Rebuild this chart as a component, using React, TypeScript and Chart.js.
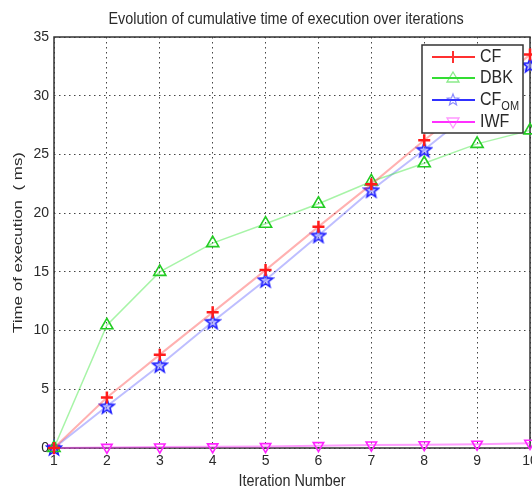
import React, { useEffect, useRef } from 'react';
import { Chart, registerables } from 'chart.js';

Chart.register(...registerables);

const iterations = ['1', '2', '3', '4', '5', '6', '7', '8', '9', '10'];
const cfValues = [0, 4.3, 7.95, 11.55, 15.15, 18.85, 22.45, 26.2, 29.8, 33.5];
const dbkValues = [0, 10.45, 15.0, 17.45, 19.1, 20.8, 22.7, 24.25, 25.9, 27.05];
const cfomValues = [0, 3.55, 7.05, 10.75, 14.3, 18.1, 21.95, 25.4, 29.0, 32.6];
const iwfValues = [0, 0.05, 0.08, 0.1, 0.12, 0.2, 0.25, 0.28, 0.32, 0.4];
const yMin = 0;
const yMax = 35;
const yStep = 5;

const titleText = 'Evolution of cumulative time of execution over iterations';
const xTitle = 'Iteration Number';
const yTitle = 'Time of execution  ( ms)';

const FONT = '"Liberation Sans", Arial, sans-serif';
const TEXT = '#2a2a2a';

function drawStarPath(ctx: CanvasRenderingContext2D, cx: number, cy: number, ro: number, ri: number) {
  ctx.beginPath();
  for (let i = 0; i < 10; i++) {
    const r = i % 2 === 0 ? ro : ri;
    const a = -Math.PI / 2 + (i * Math.PI) / 5;
    const x = cx + r * Math.cos(a);
    const y = cy + r * Math.sin(a);
    if (i === 0) ctx.moveTo(x, y);
    else ctx.lineTo(x, y);
  }
  ctx.closePath();
}

function makeStar(): HTMLCanvasElement {
  const c = document.createElement('canvas');
  c.width = 18;
  c.height = 18;
  const ctx = c.getContext('2d')!;
  drawStarPath(ctx, 9, 9.5, 7.5, 3.2);
  ctx.fillStyle = 'rgba(140,140,255,0.5)';
  ctx.fill();
  ctx.strokeStyle = '#1f1fff';
  ctx.lineWidth = 1.6;
  ctx.stroke();
  return c;
}

export default function App() {
  const ref = useRef<HTMLCanvasElement | null>(null);

  useEffect(() => {
    if (!ref.current) return;
    const star = makeStar();

    const overlay = {
      id: 'overlay',
      beforeDatasetsDraw(chart: any) {
        const { ctx, chartArea: a } = chart;
        ctx.save();
        ctx.strokeStyle = '#333';
        ctx.lineWidth = 1.5;
        ctx.strokeRect(a.left, a.top, a.right - a.left, a.bottom - a.top);
        ctx.restore();
      },
      afterDraw(chart: any) {
        const { ctx, chartArea: a } = chart;
        ctx.save();
        ctx.fillStyle = TEXT;
        ctx.textAlign = 'center';
        ctx.textBaseline = 'middle';
        ctx.save();
        ctx.translate(286, 19);
        ctx.scale(1, 1.15);
        ctx.font = `14.4px ${FONT}`;
        ctx.fillText(titleText, 0, 0);
        ctx.restore();
        ctx.save();
        ctx.translate((a.left + a.right) / 2, 481);
        ctx.scale(1, 1.15);
        ctx.font = `14.4px ${FONT}`;
        ctx.fillText(xTitle, 0, 0);
        ctx.restore();
        ctx.save();
        ctx.translate(18, (a.top + a.bottom) / 2);
        ctx.rotate(-Math.PI / 2);
        ctx.font = `13.5px ${FONT}`;
        const w = ctx.measureText(yTitle).width;
        ctx.scale(181 / w, 1);
        ctx.fillText(yTitle, 0, 0);
        ctx.restore();

        // legend
        const bx = 422, by = 45, bw = 101, bh = 88;
        ctx.fillStyle = '#fff';
        ctx.fillRect(bx, by, bw, bh);
        ctx.strokeStyle = '#333';
        ctx.lineWidth = 1.5;
        ctx.strokeRect(bx, by, bw, bh);
        const rows = [
          { y: 57, color: '#ff3030', label: 'CF', sub: '', mark: 'plus' },
          { y: 78, color: '#33dd33', label: 'DBK', sub: '', mark: 'tri' },
          { y: 100, color: '#3030ff', label: 'CF', sub: 'OM', mark: 'star' },
          { y: 122, color: '#ff30ff', label: 'IWF', sub: '', mark: 'dtri' },
        ];
        rows.forEach((r) => {
          ctx.strokeStyle = r.color;
          ctx.lineWidth = 2;
          ctx.beginPath();
          ctx.moveTo(432, r.y);
          ctx.lineTo(475, r.y);
          ctx.stroke();
          const mx = 453;
          if (r.mark === 'plus') {
            ctx.lineWidth = 2;
            ctx.beginPath();
            ctx.moveTo(mx, r.y - 6);
            ctx.lineTo(mx, r.y + 6);
            ctx.stroke();
          } else if (r.mark === 'tri') {
            ctx.strokeStyle = 'rgba(60,220,60,0.6)';
            ctx.lineWidth = 1.3;
            ctx.beginPath();
            ctx.moveTo(mx, r.y - 6);
            ctx.lineTo(mx + 6, r.y + 4);
            ctx.lineTo(mx - 6, r.y + 4);
            ctx.closePath();
            ctx.stroke();
          } else if (r.mark === 'star') {
            ctx.strokeStyle = 'rgba(60,60,255,0.6)';
            ctx.lineWidth = 1.2;
            drawStarPath(ctx, mx, r.y, 6, 2.6);
            ctx.stroke();
          } else {
            ctx.strokeStyle = 'rgba(255,80,255,0.6)';
            ctx.lineWidth = 1.3;
            ctx.beginPath();
            ctx.moveTo(mx, r.y + 6);
            ctx.lineTo(mx + 6, r.y - 4);
            ctx.lineTo(mx - 6, r.y - 4);
            ctx.closePath();
            ctx.stroke();
          }
          ctx.fillStyle = TEXT;
          ctx.textAlign = 'left';
          ctx.textBaseline = 'middle';
          ctx.save();
          ctx.translate(480, r.y);
          ctx.scale(1, 1.15);
          ctx.font = `16px ${FONT}`;
          ctx.fillText(r.label, 0, 0);
          if (r.sub) {
            const lw = ctx.measureText(r.label).width;
            ctx.font = `11px ${FONT}`;
            ctx.fillText(r.sub, lw, 6);
          }
          ctx.restore();
        });
        ctx.restore();
      },
    };

    const chart = new Chart(ref.current, {
      type: 'line',
      data: {
        labels: iterations,
        datasets: [
          {
            label: 'CF',
            data: cfValues,
            borderColor: 'rgba(255,60,60,0.4)',
            borderWidth: 2,
            pointStyle: 'cross',
            pointRadius: 6,
            pointBorderWidth: 2.5,
            pointBorderColor: '#ff1a1a',
            pointBackgroundColor: '#ff1a1a',
            clip: false,
          } as any,
          {
            label: 'DBK',
            data: dbkValues,
            borderColor: 'rgba(60,230,60,0.45)',
            borderWidth: 1.5,
            pointStyle: 'triangle',
            pointRadius: 7,
            pointBorderWidth: 1.6,
            pointBorderColor: '#22cc22',
            pointBackgroundColor: 'rgba(0,0,0,0)',
            clip: false,
          } as any,
          {
            label: 'CF_OM',
            data: cfomValues,
            borderColor: 'rgba(70,70,255,0.35)',
            borderWidth: 2,
            pointStyle: star,
            pointRadius: 7,
            clip: false,
          } as any,
          {
            label: 'IWF',
            data: iwfValues,
            borderColor: 'rgba(255,60,255,0.5)',
            borderWidth: 2,
            pointStyle: 'triangle',
            rotation: 180,
            pointRadius: 6,
            pointBorderWidth: 1.6,
            pointBorderColor: '#ff22ff',
            pointBackgroundColor: 'rgba(0,0,0,0)',
            clip: false,
          } as any,
        ],
      },
      options: {
        animation: false,
        responsive: true,
        maintainAspectRatio: false,
        layout: { autoPadding: false, padding: { top: 37, right: 2, left: 0, bottom: 0 } },
        plugins: { legend: { display: false }, tooltip: { enabled: false }, title: { display: false } },
        elements: { line: { tension: 0 } },
        scales: {
          x: {
            type: 'category',
            offset: false,
            afterFit: (s: any) => {
              s.height = 43;
              s.paddingLeft = 0;
              s.paddingRight = 0;
            },
            grid: { display: true, color: '#444', lineWidth: 1, drawTicks: false },
            border: { display: false, dash: [1.5, 3.5] },
            ticks: { color: TEXT, font: { family: FONT, size: 14 }, padding: 5, maxRotation: 0, autoSkip: false },
          },
          y: {
            type: 'linear',
            min: yMin,
            max: yMax,
            afterFit: (s: any) => {
              s.width = 54;
              s.paddingTop = 0;
              s.paddingBottom = 0;
            },
            grid: { display: true, color: '#444', lineWidth: 1, drawTicks: false },
            border: { display: false, dash: [1.5, 3.5] },
            ticks: { stepSize: yStep, color: TEXT, font: { family: FONT, size: 14 }, padding: 5 },
          },
        },
      },
      plugins: [overlay],
    } as any);

    return () => chart.destroy();
  }, []);

  return (
    <div style={{ position: 'fixed', left: 0, top: 0, width: 532, height: 491, background: '#fff' }}>
      <canvas ref={ref} />
    </div>
  );
}
